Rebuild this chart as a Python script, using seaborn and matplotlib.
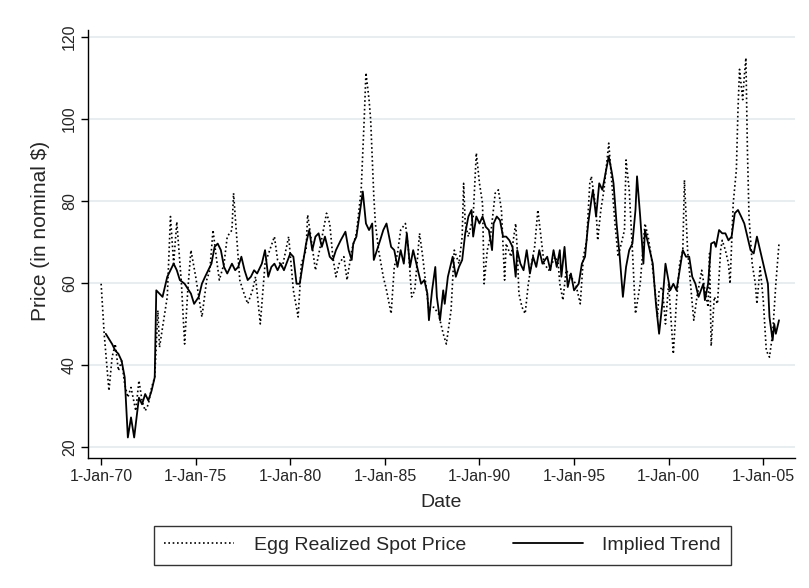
import matplotlib
matplotlib.use("Agg")
import matplotlib.pyplot as plt
import seaborn as sns
import pandas as pd

# Egg realized spot price (nominal $), monthly observations
spot_dates = [
    "1970-01", "1970-03", "1970-06", "1970-08", "1970-10", "1970-12", "1971-02", "1971-04",
    "1971-06", "1971-08", "1971-11", "1972-01", "1972-03", "1972-05", "1972-07", "1972-09",
    "1972-11", "1973-01", "1973-02", "1973-04", "1973-07", "1973-09", "1973-11", "1974-01",
    "1974-04", "1974-06", "1974-08", "1974-10", "1975-01", "1975-05", "1975-08", "1975-10",
    "1975-12", "1976-02", "1976-04", "1976-07", "1976-09", "1976-12", "1977-01", "1977-03",
    "1977-05", "1977-07", "1977-10", "1978-01", "1978-03", "1978-06", "1978-09", "1978-12",
    "1979-03", "1979-05", "1979-08", "1979-12", "1980-03", "1980-06", "1980-08", "1980-11",
    "1980-12", "1981-02", "1981-05", "1981-08", "1981-12", "1982-02", "1982-04", "1982-06",
    "1982-08", "1982-11", "1983-01", "1983-04", "1983-07", "1983-10", "1983-12", "1984-01",
    "1984-03", "1984-04", "1984-06", "1984-07", "1984-09", "1984-12", "1985-02", "1985-05",
    "1985-07", "1985-09", "1985-11", "1986-02", "1986-04", "1986-06", "1986-08", "1986-11",
    "1987-01", "1987-03", "1987-05", "1987-08", "1987-11", "1988-02", "1988-04", "1988-07",
    "1988-09", "1988-12", "1989-02", "1989-03", "1989-04", "1989-06", "1989-09", "1989-11",
    "1990-01", "1990-03", "1990-04", "1990-06", "1990-08", "1990-11", "1991-01", "1991-03",
    "1991-05", "1991-06", "1991-09", "1991-12", "1992-01", "1992-02", "1992-04", "1992-06",
    "1992-08", "1992-10", "1992-12", "1993-02", "1993-04", "1993-06", "1993-09", "1993-11",
    "1994-01", "1994-03", "1994-04", "1994-06", "1994-08", "1994-11", "1995-02", "1995-05",
    "1995-07", "1995-09", "1995-11", "1995-12", "1996-03", "1996-04", "1996-06", "1996-08",
    "1996-11", "1997-01", "1997-03", "1997-05", "1997-07", "1997-09", "1997-10", "1997-12",
    "1998-02", "1998-04", "1998-07", "1998-10", "1998-12", "1999-02", "1999-04", "1999-06",
    "1999-07", "1999-09", "1999-11", "2000-01", "2000-04", "2000-06", "2000-08", "2000-10",
    "2000-11", "2001-01", "2001-04", "2001-05", "2001-07", "2001-10", "2001-12", "2002-02",
    "2002-03", "2002-04", "2002-06", "2002-08", "2002-10", "2002-11", "2003-01", "2003-03",
    "2003-04", "2003-06", "2003-08", "2003-09", "2003-10", "2003-12", "2004-01", "2004-02",
    "2004-03", "2004-04", "2004-06", "2004-08", "2004-09", "2004-11", "2005-01", "2005-03",
    "2005-05", "2005-07", "2005-09", "2005-11",
]
spot_price = [
    59.8, 47.6, 33.7, 41.9, 45.1, 38.6, 41.0, 35.3,
    32.1, 34.5, 28.8, 36.2, 31.3, 28.8, 30.4, 34.5,
    37.0, 53.3, 44.3, 49.2, 56.6, 76.2, 64.7, 74.9,
    59.8, 45.1, 58.2, 68.0, 61.5, 51.7, 60.7, 63.1,
    72.9, 66.4, 60.7, 64.7, 71.3, 72.9, 81.9, 71.3,
    60.7, 58.2, 54.9, 58.2, 61.5, 50.0, 64.7, 68.0,
    71.3, 65.6, 63.9, 71.3, 58.2, 51.7, 64.7, 68.0,
    76.6, 71.3, 63.1, 68.8, 77.0, 74.5, 66.4, 61.5,
    64.7, 66.4, 60.7, 68.0, 72.1, 82.7, 100.7, 111.3,
    104.7, 99.8, 81.1, 74.5, 68.0, 61.5, 58.2, 52.5,
    63.9, 67.2, 72.9, 74.5, 68.0, 56.6, 58.2, 72.1,
    66.4, 59.8, 53.3, 54.1, 52.5, 47.6, 45.1, 53.3,
    68.0, 64.7, 71.3, 84.3, 74.5, 71.3, 76.2, 91.7,
    84.3, 79.4, 59.8, 68.0, 71.3, 81.9, 82.7, 77.8,
    60.7, 69.6, 66.4, 74.5, 68.0, 57.4, 54.1, 52.5,
    59.8, 64.7, 68.8, 77.8, 71.3, 64.7, 63.1, 64.7,
    66.4, 64.7, 59.8, 55.8, 63.1, 61.5, 59.8, 54.9,
    66.4, 70.4, 84.3, 86.0, 77.8, 70.4, 77.8, 82.7,
    94.1, 84.3, 74.5, 66.4, 69.6, 72.9, 90.0, 82.7,
    68.0, 52.5, 59.8, 74.5, 71.3, 66.4, 59.8, 51.7,
    58.2, 59.0, 50.0, 59.8, 42.7, 55.8, 64.7, 68.0,
    85.1, 68.0, 54.9, 50.9, 56.6, 63.1, 58.2, 54.1,
    67.2, 44.6, 56.6, 54.9, 68.0, 70.4, 68.0, 64.7,
    59.8, 79.4, 87.6, 102.3, 112.1, 104.7, 110.4, 114.9,
    92.5, 76.2, 64.7, 59.8, 54.9, 63.9, 55.8, 43.5,
    41.9, 47.6, 59.8, 69.6,
]

# Implied trend (nominal $)
trend_dates = [
    "1970-04", "1970-08", "1970-10", "1970-12", "1971-02", "1971-04", "1971-06", "1971-08",
    "1971-10", "1972-01", "1972-03", "1972-05", "1972-07", "1972-09", "1972-11", "1972-12",
    "1973-02", "1973-04", "1973-07", "1973-09", "1973-11", "1974-01", "1974-03", "1974-06",
    "1974-10", "1974-12", "1975-03", "1975-05", "1975-07", "1975-09", "1975-11", "1976-01",
    "1976-03", "1976-05", "1976-07", "1976-09", "1976-12", "1977-02", "1977-04", "1977-06",
    "1977-08", "1977-10", "1977-12", "1978-02", "1978-04", "1978-07", "1978-09", "1978-11",
    "1979-01", "1979-03", "1979-05", "1979-07", "1979-09", "1980-01", "1980-03", "1980-05",
    "1980-07", "1980-09", "1980-11", "1981-01", "1981-03", "1981-05", "1981-07", "1981-09",
    "1981-11", "1982-02", "1982-04", "1982-06", "1982-09", "1982-12", "1983-02", "1983-04",
    "1983-05", "1983-07", "1983-10", "1983-11", "1984-01", "1984-03", "1984-05", "1984-06",
    "1984-08", "1984-10", "1984-12", "1985-02", "1985-05", "1985-07", "1985-09", "1985-11",
    "1986-01", "1986-03", "1986-05", "1986-07", "1986-09", "1986-12", "1987-02", "1987-04",
    "1987-05", "1987-07", "1987-09", "1987-10", "1987-12", "1988-02", "1988-03", "1988-05",
    "1988-08", "1988-10", "1988-12", "1989-02", "1989-04", "1989-06", "1989-08", "1989-09",
    "1989-11", "1990-01", "1990-03", "1990-05", "1990-07", "1990-09", "1990-10", "1990-12",
    "1991-02", "1991-04", "1991-06", "1991-08", "1991-10", "1991-12", "1992-01", "1992-03",
    "1992-05", "1992-07", "1992-09", "1992-11", "1993-01", "1993-03", "1993-05", "1993-08",
    "1993-10", "1993-12", "1994-02", "1994-04", "1994-05", "1994-07", "1994-09", "1994-11",
    "1995-01", "1995-04", "1995-06", "1995-08", "1995-10", "1995-12", "1996-01", "1996-03",
    "1996-05", "1996-07", "1996-09", "1996-11", "1997-01", "1997-02", "1997-04", "1997-06",
    "1997-08", "1997-10", "1997-12", "1998-02", "1998-04", "1998-05", "1998-07", "1998-09",
    "1998-10", "1999-01", "1999-03", "1999-05", "1999-07", "1999-09", "1999-11", "2000-02",
    "2000-04", "2000-06", "2000-08", "2000-10", "2000-12", "2001-02", "2001-04", "2001-06",
    "2001-08", "2001-11", "2001-12", "2002-02", "2002-04", "2002-06", "2002-07", "2002-09",
    "2002-11", "2003-01", "2003-03", "2003-05", "2003-07", "2003-09", "2003-11", "2004-01",
    "2004-03", "2004-05", "2004-07", "2004-09", "2004-11", "2005-02", "2005-04", "2005-05",
    "2005-07", "2005-08", "2005-09", "2005-11",
]
trend_price = [
    47.6, 45.1, 43.5, 42.7, 41.0, 37.0, 22.3, 27.2,
    22.3, 32.0, 30.4, 32.9, 31.3, 33.7, 37.0, 58.2,
    57.4, 56.6, 61.5, 63.1, 64.7, 63.1, 60.7, 59.8,
    57.4, 54.9, 56.6, 59.8, 61.5, 63.1, 64.7, 68.8,
    69.6, 68.0, 63.9, 62.3, 64.7, 63.1, 63.9, 66.4,
    63.1, 60.7, 61.5, 63.1, 62.3, 64.7, 68.0, 61.5,
    63.9, 64.7, 63.1, 64.7, 63.1, 67.2, 66.4, 59.8,
    59.8, 64.7, 69.6, 72.9, 68.0, 71.3, 72.1, 68.8,
    71.3, 66.4, 65.6, 68.0, 70.4, 72.5, 68.0, 65.6,
    69.6, 71.3, 79.4, 82.3, 74.5, 72.9, 74.5, 65.6,
    68.0, 70.4, 72.9, 74.5, 68.8, 68.0, 63.9, 68.0,
    64.7, 72.1, 63.9, 68.0, 64.7, 59.8, 60.7, 57.4,
    50.9, 58.2, 63.9, 56.6, 50.9, 58.2, 54.9, 61.5,
    66.4, 61.5, 63.9, 65.6, 72.1, 76.2, 77.8, 71.3,
    76.2, 74.5, 76.2, 73.7, 72.9, 68.0, 74.5, 76.2,
    75.3, 71.3, 71.3, 70.4, 68.8, 61.5, 68.0, 64.7,
    63.1, 68.0, 62.3, 66.4, 63.9, 68.0, 64.7, 66.4,
    63.1, 68.0, 63.9, 68.0, 61.5, 68.8, 59.0, 62.3,
    58.2, 59.8, 64.7, 66.4, 74.5, 80.2, 82.7, 76.2,
    84.3, 82.7, 86.8, 90.9, 86.8, 84.3, 74.5, 66.4,
    56.6, 63.9, 68.0, 69.6, 77.8, 86.0, 76.2, 64.7,
    72.9, 68.0, 64.7, 54.9, 47.6, 54.9, 64.7, 58.2,
    59.8, 58.2, 63.1, 68.0, 66.4, 66.4, 61.5, 59.8,
    56.6, 59.8, 55.8, 59.8, 69.6, 70.0, 68.8, 72.9,
    72.1, 72.1, 70.4, 71.3, 77.0, 77.8, 76.2, 74.5,
    71.3, 68.0, 67.2, 71.3, 68.0, 63.1, 59.8, 51.7,
    46.0, 50.0, 47.6, 50.9,
]

# Axis ticks
x_tick_dates = ["1970-01-01", "1975-01-01", "1980-01-01", "1985-01-01",
                "1990-01-01", "1995-01-01", "2000-01-01", "2005-01-01"]
x_tick_labels = ["1-Jan-70", "1-Jan-75", "1-Jan-80", "1-Jan-85",
                 "1-Jan-90", "1-Jan-95", "1-Jan-00", "1-Jan-05"]
y_ticks = [20, 40, 60, 80, 100, 120]

spot = pd.DataFrame({"Date": pd.to_datetime(spot_dates), "Price": spot_price})
trend = pd.DataFrame({"Date": pd.to_datetime(trend_dates), "Price": trend_price})

sns.set_theme(style="white")
plt.rcParams["font.family"] = ["Liberation Sans", "DejaVu Sans"]

fig = plt.figure(figsize=(8.09, 5.88), dpi=100)
ax = fig.add_axes([0.1088, 0.2211, 0.8739, 0.7279])

grid_color = "#e6eef2"
for v in y_ticks:
    ax.axhline(v, color=grid_color, lw=1.4, zorder=0)

sns.lineplot(data=spot, x="Date", y="Price", ax=ax, color="black",
             linestyle=(0, (1.0, 1.6)), lw=1.2, label="Egg Realized Spot Price")
sns.lineplot(data=trend, x="Date", y="Price", ax=ax, color="black",
             lw=1.3, label="Implied Trend")

ax.set_xlim(pd.Timestamp("1969-04-23"), pd.Timestamp("2006-09-06"))
ax.set_ylim(17.3, 121.7)
ax.set_xticks(pd.to_datetime(x_tick_dates))
ax.set_xticklabels(x_tick_labels, fontsize=11.5)
ax.set_yticks(y_ticks)
ax.set_yticklabels([str(v) for v in y_ticks], fontsize=11.5, rotation=90, va="center")
ax.tick_params(axis="both", direction="out", length=5, width=1, color="black",
               bottom=True, left=True, pad=3)
ax.set_xlabel("Date", fontsize=14, labelpad=7)
ax.set_ylabel("Price (in nominal $)", fontsize=15)
ax.yaxis.set_label_coords(-0.054, 0.53)

for side in ("top", "right"):
    ax.spines[side].set_visible(False)
for side in ("left", "bottom"):
    ax.spines[side].set_color("black")
    ax.spines[side].set_linewidth(1.0)

ax.get_legend().remove()
handles, labels = ax.get_legend_handles_labels()
leg = fig.legend(handles, labels, loc="center", bbox_to_anchor=(0.547, 0.073),
                 ncol=2, fontsize=14, frameon=True, fancybox=False,
                 handlelength=3.6, handletextpad=1.0, columnspacing=2.4,
                 borderpad=0.55)
leg.get_frame().set_edgecolor("black")
leg.get_frame().set_linewidth(1.0)

fig.savefig("out.png", dpi=100, facecolor="white")
